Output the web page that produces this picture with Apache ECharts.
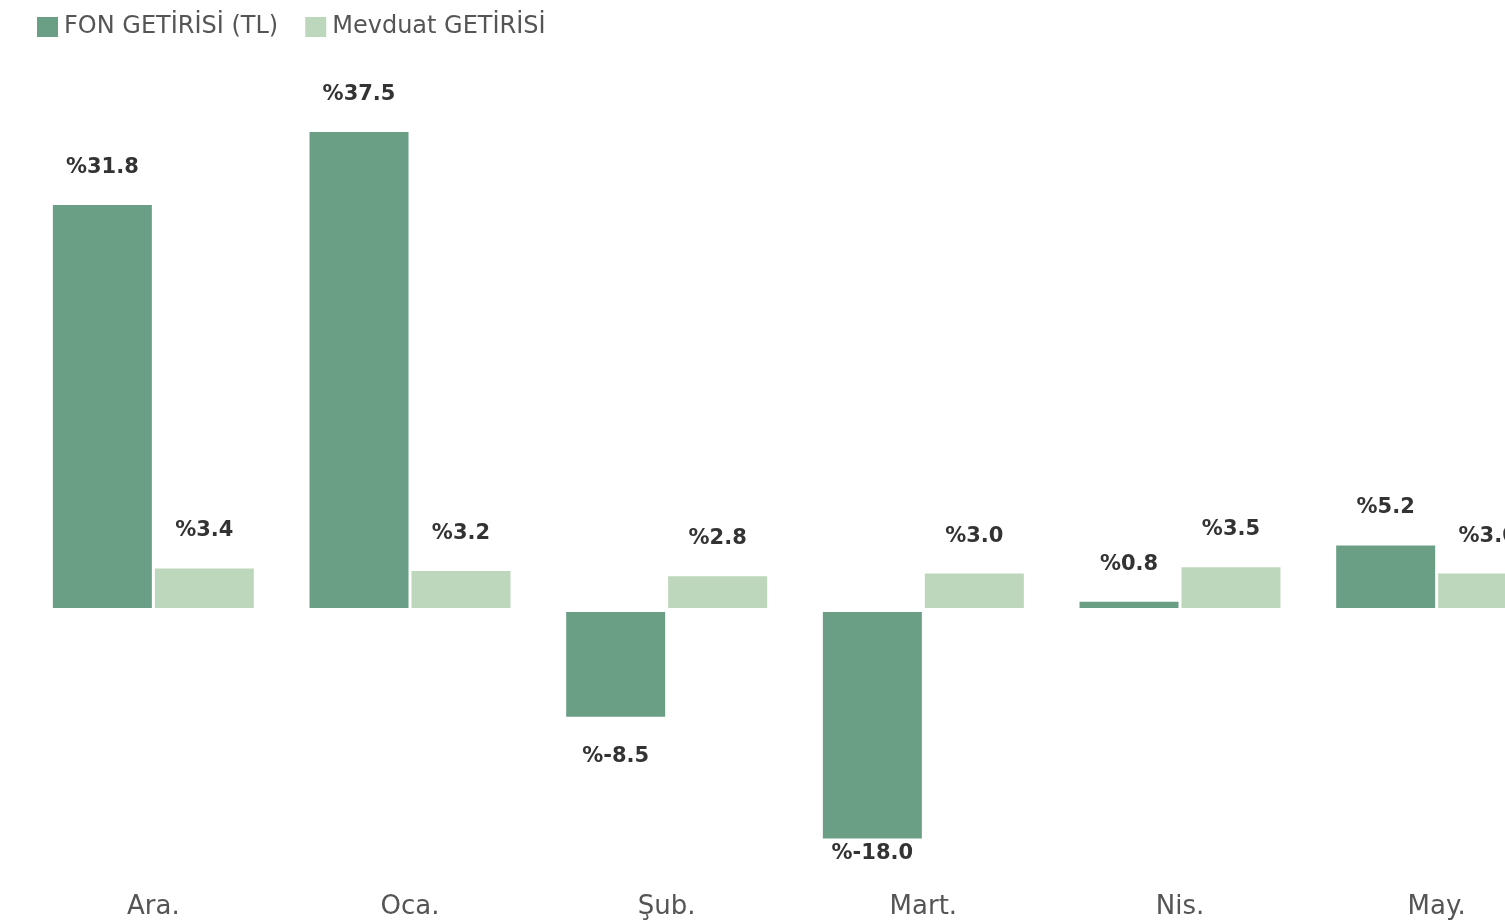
<!DOCTYPE html>
<html>
<head>
<meta charset="utf-8">
<script src="https://cdn.jsdelivr.net/npm/echarts@6/dist/echarts.min.js"></script>
<style>
html,body{margin:0;padding:0;overflow:hidden;background:#fff;}
#getiri_chart{width:1565px;height:923px;}
</style>
</head>
<body>
<div id="getiri_chart"></div>
<script>
var categories = ['Ara.', 'Oca.', 'Şub.', 'Mart.', 'Nis.', 'May.'];
var legendData = ['FON GETİRİSİ (TL)', 'Mevduat GETİRİSİ'];
var fonValues = [31.8, 37.5, -8.5, -18.0, 0.8, 5.2];
var mevduatValues = [3.4, 3.2, 2.8, 3.0, 3.5, 3.0];
var colorData = ['#6a9f86', '#bcd7bb'];

var fontName = 'DejaVu Sans';

function buildData(vals){
    var out = [];
    for(var i=0;i<vals.length;i++){
        var item = {value: vals[i]};
        if(vals[i] < 0){
            // negatif degerlerde etiket cubugun altinda
            item.label = {position: 'bottom', distance: vals[i] < -15 ? 3 : 27};
        }
        out.push(item);
    }
    return out;
}

var labelStyle = {
    show: true,
    position: 'top',
    distance: 25,
    color: '#333',
    fontSize: 21,
    fontWeight: 'bold',
    fontFamily: fontName,
    formatter: function(p){
        return '%' + Number(p.value).toFixed(1);
    }
};

var seriesObj = [];
var seriesVals = [fonValues, mevduatValues];
for(var i=0;i<legendData.length;i++){
    seriesObj.push({
        name: legendData[i],
        type: 'bar',
        data: buildData(seriesVals[i]),
        barWidth: 103,
        barGap: '-1%',
        itemStyle: {color: colorData[i], borderColor: '#fff', borderWidth: 2},
        label: labelStyle,
        emphasis: {disabled: true}
    });
}

var chart = echarts.init(document.getElementById('getiri_chart'));
var option = {
    animation: false,
    color: colorData,
    legend: {
        left: 30,
        top: 10,
        data: legendData,
        icon: 'rect',
        itemWidth: 23,
        itemHeight: 22,
        itemGap: 25,
        textStyle: {color: '#555', fontSize: 24, fontFamily: fontName}
    },
    grid: {left: 25, right: 0, top: 98, height: 768},
    xAxis: {
        type: 'category',
        data: categories,
        axisLine: {show: false},
        axisTick: {show: false},
        axisLabel: {
            interval: 0,
            margin: 28,
            color: '#555',
            fontSize: 26,
            fontFamily: fontName
        }
    },
    yAxis: {
        type: 'value',
        min: -20,
        max: 40,
        show: false,
        splitLine: {show: false}
    },
    series: seriesObj
};
chart.setOption(option);
</script>
</body>
</html>
